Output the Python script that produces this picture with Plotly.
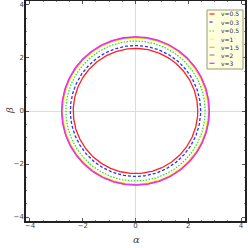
import numpy as np
import plotly.graph_objects as go

labels = ["v=0.5", "v=0.3", "v=0.5", "v=1", "v=1.5", "v=2", "v=3"]
radii = [2.36, 2.47, 2.64, 2.75, 2.78, 2.79, 2.80]
colors = ["#ff2020", "#3030ff", "#30e030", "#ffff30", "#ffa040", "#909090", "#ff20ff"]
dashes = ["solid", "3px,2px", "1.5px,1.5px", "solid", "solid", "solid", "solid"]
ticks = [-4, -2, 0, 2, 4]
tick_text = ["\u22124", "\u22122", "0", "2", "4"]

W, H = 248, 248
L, R, T, B = 26, 3, 1, 27
pw, ph = W - L - R, H - T - B

def px_x(p):
    return (p - L) / pw

def px_y(p):
    return (H - B - p) / ph

t = np.linspace(0, 2 * np.pi, 400)
fig = go.Figure()
for lab, r, c, d in zip(labels, radii, colors, dashes):
    fig.add_trace(go.Scatter(x=r * np.cos(t), y=r * np.sin(t), mode="lines", name=lab,
                             line=dict(color=c, width=1.3, dash=d), showlegend=False,
                             hoverinfo="skip"))

axis = dict(range=[-4.15, 4.15], tickvals=ticks, ticktext=tick_text, ticks="inside", ticklen=3,
            tickcolor="#555", showline=True, linecolor="#222", linewidth=1.5, mirror="allticks",
            showgrid=False, zeroline=True, zerolinecolor="#dddddd", zerolinewidth=1,
            tickfont=dict(size=7, color="#444", family="DejaVu Sans"), automargin=False,
            minor=dict(ticks="inside", ticklen=1.5, tickcolor="#888", dtick=0.5))
fig.update_xaxes(**axis, ticklabelstandoff=-3)
fig.update_yaxes(**axis, ticklabelstandoff=-1)

shapes = [dict(type="rect", xref="paper", yref="paper", x0=px_x(207), x1=px_x(243),
               y0=px_y(69), y1=px_y(10), fillcolor="#ffffe0", line=dict(color="#999977", width=1))]
annotations = []
ys = [14, 22, 31, 39.3, 47.3, 55, 63.3]
for lab, c, d, yy in zip(labels, colors, dashes, ys):
    shapes.append(dict(type="line", xref="paper", yref="paper", x0=px_x(209.5), x1=px_x(214.5),
                       y0=px_y(yy), y1=px_y(yy), line=dict(color=c, width=1.2, dash=d)))
    annotations.append(dict(xref="paper", yref="paper", x=px_x(218.5), y=px_y(yy), text=lab,
                            showarrow=False, xanchor="left", yanchor="middle",
                            font=dict(size=6, color="#333", family="DejaVu Sans")))
annotations.append(dict(xref="paper", yref="paper", x=px_x(136.5), y=px_y(239), text="<i>α</i>",
                        showarrow=False, xanchor="center", yanchor="middle",
                        font=dict(size=10, color="#444", family="DejaVu Serif")))
annotations.append(dict(xref="paper", yref="paper", x=px_x(9), y=px_y(111), text="<i>β</i>",
                        showarrow=False, xanchor="center", yanchor="middle", textangle=-90,
                        font=dict(size=10, color="#444", family="DejaVu Serif")))

fig.update_layout(width=W, height=H, margin=dict(l=L, r=R, t=T, b=B),
                  plot_bgcolor="white", paper_bgcolor="white", showlegend=False,
                  shapes=shapes, annotations=annotations, hovermode=False)
fig.write_html("out.html", config={"displayModeBar": False},
               post_script="document.body.style.margin='0';document.body.style.padding='0';")
